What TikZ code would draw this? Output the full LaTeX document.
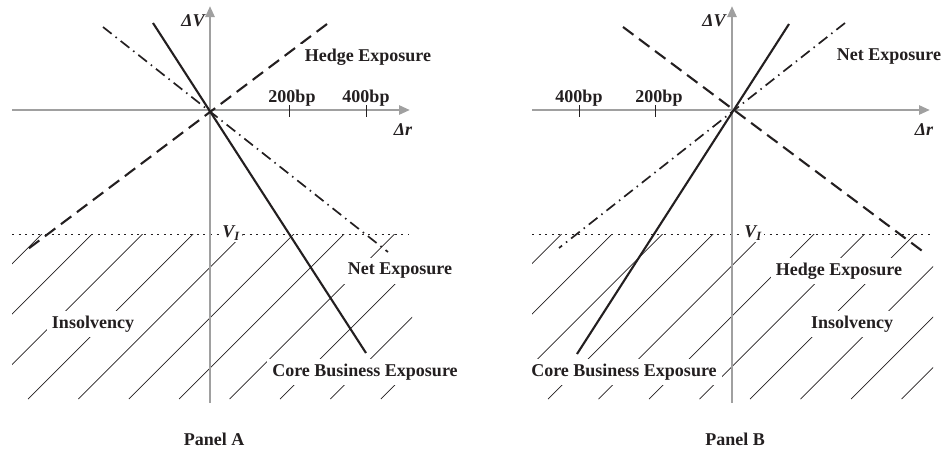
\documentclass[tikz,border=0pt]{standalone}
\usepackage{fontspec}
\setmainfont{Liberation Serif}
\usetikzlibrary{arrows.meta}
\definecolor{AxisGray}{HTML}{A0A0A0}
\definecolor{InkDark}{HTML}{231F20}
\tikzset{
  axisline/.style={-{Triangle[length=11pt,width=9pt]}, line width=2.6pt, AxisGray},
  tickmark/.style={line width=0.9pt, InkDark},
  ticklabel/.style={font=\fontsize{18}{20}\selectfont\bfseries\color{InkDark}, anchor=base, inner sep=0pt},
  axislabel/.style={font=\fontsize{18}{20}\selectfont\bfseries\itshape\color{InkDark}, inner sep=0pt},
  curvelabel/.style={font=\fontsize{18}{20}\selectfont\bfseries\color{InkDark}, fill=white, inner sep=5pt},
  paneltitle/.style={font=\fontsize{18}{20}\selectfont\bfseries\color{InkDark}},
  corecurve/.style={line width=2.1pt, InkDark},
  hedgecurve/.style={line width=2.1pt, InkDark, dash pattern=on 13pt off 7pt},
  netcurve/.style={line width=1.7pt, InkDark, dash pattern=on 11pt off 5pt on 1.5pt off 5pt},
  levelline/.style={line width=0.9pt, InkDark, dash pattern=on 2pt off 4.6pt},
  hatch/.style={line width=0.7pt, InkDark},
}
\begin{document}
\begin{tikzpicture}[x=1pt, y=-1pt]
  \useasboundingbox (0,0) rectangle (945,451);

  % ---------- Panel A ----------
  \coordinate (oA) at (210,110);

  % insolvency region
  \begin{scope}
    \clip (12,234) rectangle (412,399);
    \foreach \k in {-4,...,8}
      \draw[hatch] ({28+50.4*\k},399) -- ++(200,-200);
  \end{scope}
  \draw[levelline] (12,234) coordinate (lvA0) -- (409,234) coordinate (lvA1);

  % axes
  \draw[axisline] (12,110) coordinate (hA0) -- (410,110) coordinate (hA1);
  \draw[axisline] (210,403) coordinate (vA0) -- (210,6) coordinate (vA1);
  \node[axislabel] (dVA) at (193,21) {ΔV};
  \node[axislabel] (drA) at (403,130) {Δr};
  \draw[tickmark] (289,105) -- (289,117);
  \draw[tickmark] (366,105) -- (366,117);
  \node[ticklabel] (tA200) at (292,102) {200bp};
  \node[ticklabel] (tA400) at (366,102) {400bp};

  % exposures
  \coordinate (coreA0) at (153,23);
  \coordinate (coreA1) at (366,353);
  \coordinate (netA0) at (103,27);
  \coordinate (netA1) at (388,252);
  \coordinate (hedgeA0) at (327,24);
  \coordinate (hedgeA1) at (24,252);
  \draw[netcurve] (netA0) -- (netA1);
  \draw[hedgecurve] (hedgeA0) -- (hedgeA1);
  \draw[corecurve] (coreA0) -- (coreA1);

  \node[curvelabel, inner sep=2pt] (viA) at (231,233) {\textit{V\textsubscript{I}}};
  \node[curvelabel] (hedgeAlab) at (368,57) {Hedge Exposure};
  \node[curvelabel] (netAlab) at (400,271) {Net Exposure};
  \node[curvelabel] (insA) at (93,324) {Insolvency};
  \node[curvelabel] (coreAlab) at (365,372) {Core Business Exposure};
  \node[paneltitle] (panA) at (214,439) {Panel A};

  % ---------- Panel B ----------
  \coordinate (oB) at (732,110);

  % insolvency region
  \begin{scope}
    \clip (532,234) rectangle (933,399);
    \foreach \k in {-4,...,8}
      \draw[hatch] ({548+50.5*\k},399) -- ++(200,-200);
  \end{scope}
  \draw[levelline] (532,234) coordinate (lvB0) -- (930,234) coordinate (lvB1);

  % axes
  \draw[axisline] (532,110) coordinate (hB0) -- (930,110) coordinate (hB1);
  \draw[axisline] (732,403) coordinate (vB0) -- (732,6) coordinate (vB1);
  \node[axislabel] (dVB) at (714,21) {ΔV};
  \node[axislabel] (drB) at (924,130) {Δr};
  \draw[tickmark] (579,105) -- (579,117);
  \draw[tickmark] (655,105) -- (655,117);
  \node[ticklabel] (tB400) at (579,102) {400bp};
  \node[ticklabel] (tB200) at (659,102) {200bp};

  % exposures
  \coordinate (coreB0) at (789,24);
  \coordinate (coreB1) at (577,354);
  \coordinate (netB0) at (845,23);
  \coordinate (netB1) at (559,248);
  \coordinate (hedgeB0) at (623,27);
  \coordinate (hedgeB1) at (925,253);
  \draw[netcurve] (netB0) -- (netB1);
  \draw[hedgecurve] (hedgeB0) -- (hedgeB1);
  \draw[corecurve] (coreB0) -- (coreB1);

  \node[curvelabel, inner sep=2pt] (viB) at (753,233) {\textit{V\textsubscript{I}}};
  \node[curvelabel] (netBlab) at (889,57) {Net Exposure};
  \node[curvelabel] (hedgeBlab) at (839,271) {Hedge Exposure};
  \node[curvelabel] (insB) at (852,324) {Insolvency};
  \node[curvelabel] (coreBlab) at (624,372) {Core Business Exposure};
  \node[paneltitle] (panB) at (735,439) {Panel B};
\end{tikzpicture}
\end{document}
